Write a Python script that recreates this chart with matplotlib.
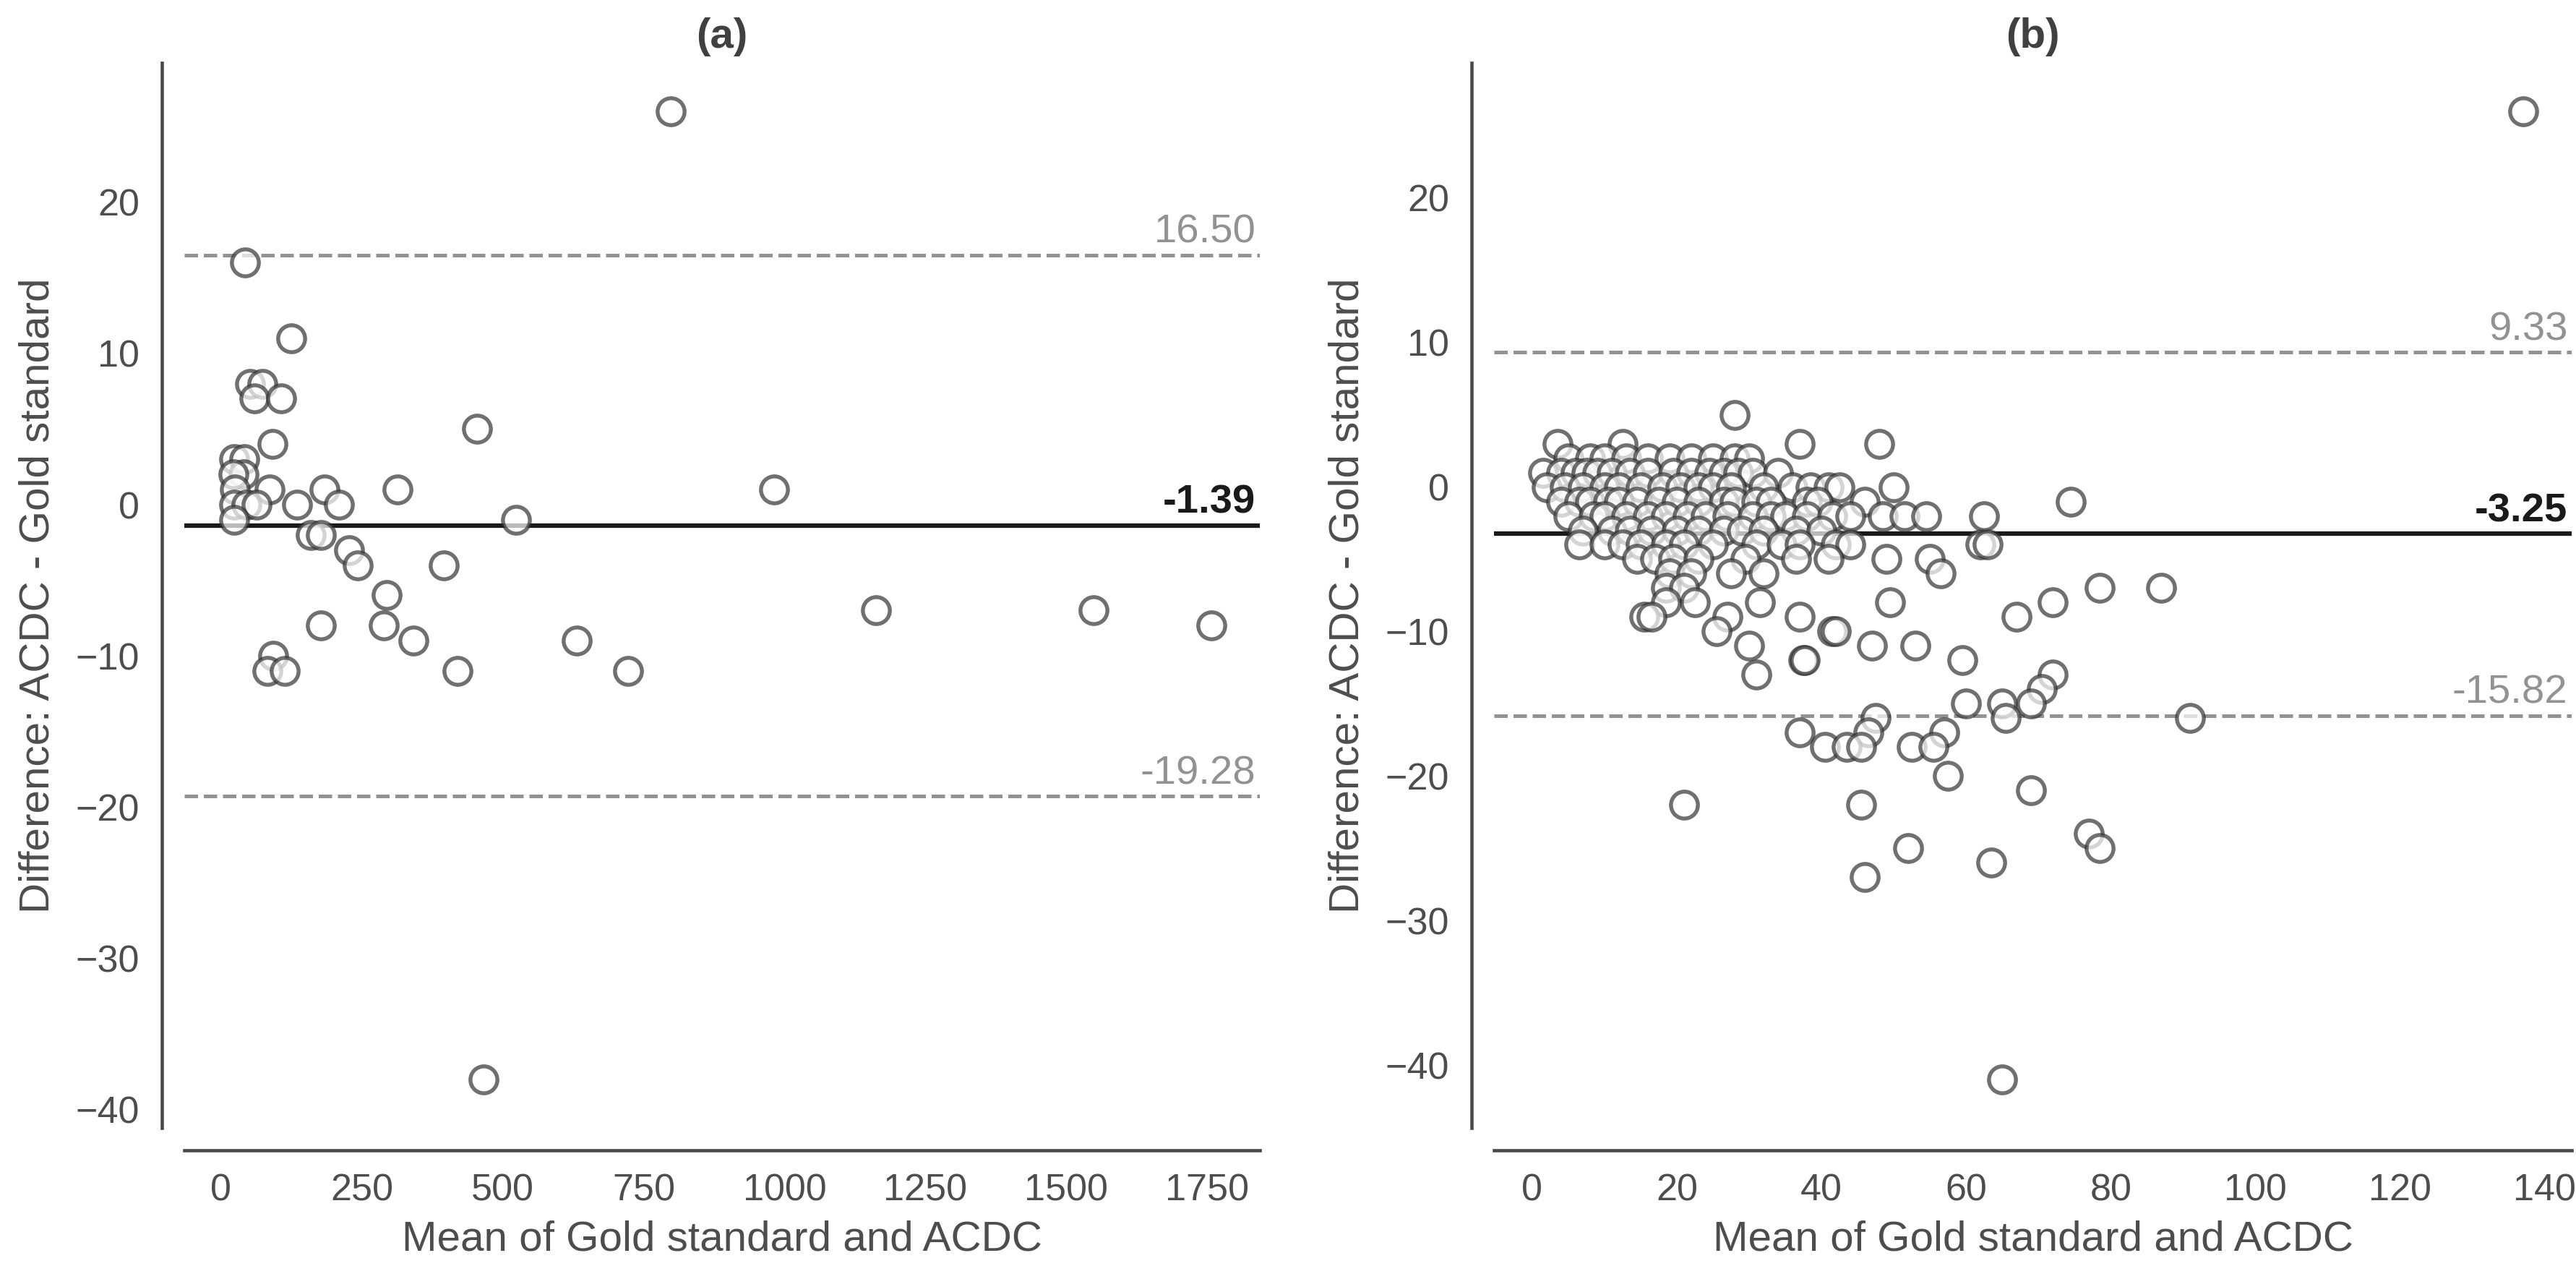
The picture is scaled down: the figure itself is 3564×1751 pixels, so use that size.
import matplotlib
matplotlib.use("Agg")
from matplotlib import pyplot as plt
from matplotlib.ticker import MultipleLocator
import matplotlib.transforms as mtransforms

plt.rcParams['font.family'] = ['Liberation Sans', 'DejaVu Sans']

# panel (a): mean of both methods vs difference (ACDC - gold standard)
a_mean = [43, 125, 52, 73, 59, 107, 454, 91, 23, 41, 40, 22, 25, 87, 184, 314,
          524, 23, 45, 63, 135, 209, 23, 160, 177, 228, 243, 396, 294, 177,
          289, 342, 631, 93, 82, 113, 420, 798, 981, 1163, 1548, 1757, 723, 466]
a_diff = [16, 11, 8, 8, 7, 7, 5, 4, 3, 3, 2, 2, 1, 1, 1, 1,
          -1, 0, 0, 0, 0, 0, -1, -2, -2, -3, -4, -4, -6, -8,
          -8, -9, -9, -10, -11, -11, -11, 26, 1, -7, -7, -8, -11, -38]
a_bias = -1.39
a_loa = [16.50, -19.28]

# panel (b)
b_mean = [137, 28, 3.5, 12.5, 37, 48,
          5, 8, 10, 13, 16, 19, 22, 25, 28, 30,
          1.5, 4, 6, 7.5, 9, 11, 13.5, 16, 19.5, 22, 24.5, 26.5, 28.5, 30.5, 34,
          2, 4.5, 7, 10, 12, 15, 18, 20.5, 23, 25, 27.5, 32, 36, 38.5, 41, 42.5, 50,
          4, 6.5, 8, 10.5, 12, 14.5, 17.5, 20, 23, 26.5, 28, 31, 33, 38, 39.5, 46, 74.5,
          5, 8.5, 10, 13, 16, 18.5, 21.5, 24, 27, 30.5, 33, 35, 38, 41.5, 44, 48.5, 51.5, 54.5, 62.5,
          7, 11, 13.5, 16.5, 20, 23, 26.5, 29, 32, 36.5, 40,
          6.5, 10, 12.5, 15, 18.5, 21, 25, 31, 34.5, 37, 42, 44, 62, 63,
          14.5, 17, 19.5, 23, 29.5, 36.5, 41, 49, 55,
          19, 22, 27.5, 32, 56.5,
          18.5, 21, 78.5, 87,
          18.5, 22.5, 31.5, 49.5, 72,
          15.5, 16.5, 27, 37, 67,
          25.5, 41.5, 42,
          30, 47, 53,
          37.5, 37.7, 59.5,
          31, 72,
          70.5,
          60, 65, 69,
          47.5, 65.5, 91,
          37, 46.5, 57,
          40.5, 43.5, 45.5, 52.5, 55.5,
          57.5, 69, 21, 45.5, 77, 52, 78.5, 63.5, 46, 65]
b_diff = [26, 5, 3, 3, 3, 3,
          2, 2, 2, 2, 2, 2, 2, 2, 2, 2,
          1, 1, 1, 1, 1, 1, 1, 1, 1, 1, 1, 1, 1, 1, 1,
          0, 0, 0, 0, 0, 0, 0, 0, 0, 0, 0, 0, 0, 0, 0, 0, 0,
          -1, -1, -1, -1, -1, -1, -1, -1, -1, -1, -1, -1, -1, -1, -1, -1, -1,
          -2, -2, -2, -2, -2, -2, -2, -2, -2, -2, -2, -2, -2, -2, -2, -2, -2, -2, -2,
          -3, -3, -3, -3, -3, -3, -3, -3, -3, -3, -3,
          -4, -4, -4, -4, -4, -4, -4, -4, -4, -4, -4, -4, -4, -4,
          -5, -5, -5, -5, -5, -5, -5, -5, -5,
          -6, -6, -6, -6, -6,
          -7, -7, -7, -7,
          -8, -8, -8, -8, -8,
          -9, -9, -9, -9, -9,
          -10, -10, -10,
          -11, -11, -11,
          -12, -12, -12,
          -13, -13,
          -14,
          -15, -15, -15,
          -16, -16, -16,
          -17, -17, -17,
          -18, -18, -18, -18, -18,
          -20, -21, -22, -22, -24, -25, -25, -26, -27, -41]
b_bias = -3.25
b_loa = [9.33, -15.82]

fig = plt.figure(figsize=(11.88, 5.837), dpi=300)
ax1 = fig.add_axes([0.0716, 0.1091, 0.4175, 0.8412])
ax2 = fig.add_axes([0.5800, 0.1091, 0.4184, 0.8412])


def bland_altman(ax, xs, ys, bias, loa, title, xstep):
    # reference lines go under the points
    for v in loa:
        ax.axhline(v, color='#929292', lw=1.2, ls='--', zorder=1)
    ax.axhline(bias, color='#1a1a1a', lw=1.5, zorder=1)

    ax.scatter(xs, ys, s=80, facecolor='white', edgecolor='#333333',
               linewidths=1.3, alpha=0.7, zorder=2)

    trans = mtransforms.blended_transform_factory(ax.transAxes, ax.transData)
    for v in loa:
        ax.text(0.996, v + 0.25, '%.2f' % v, transform=trans, ha='right',
                va='bottom', fontsize=13.5, color='#929292')
    ax.text(0.996, bias + 0.25, '%.2f' % bias, transform=trans, ha='right',
            va='bottom', fontsize=13.5, color='#1a1a1a', fontweight='bold')

    ax.xaxis.set_major_locator(MultipleLocator(xstep))
    ax.yaxis.set_major_locator(MultipleLocator(10))
    ax.tick_params(length=0, pad=7.5, labelsize=12.5, labelcolor='#4d4d4d')

    for side in ['top', 'right']:
        ax.spines[side].set_visible(False)
    for side in ['left', 'bottom']:
        ax.spines[side].set_position(('outward', 7.4))
        ax.spines[side].set_color('#4a4a4a')
        ax.spines[side].set_linewidth(1.1)

    ax.set_xlabel('Mean of Gold standard and ACDC', fontsize=14,
                  color='#4d4d4d', labelpad=4)
    ax.set_ylabel('Difference: ACDC - Gold standard', fontsize=14,
                  color='#4d4d4d', labelpad=6)
    ax.set_title(title, fontsize=14, fontweight='bold', color='#404040', pad=5)


bland_altman(ax1, a_mean, a_diff, a_bias, a_loa, '(a)', 250)
bland_altman(ax2, b_mean, b_diff, b_bias, b_loa, '(b)', 20)

fig.savefig('out.png', dpi=300, facecolor='white')
